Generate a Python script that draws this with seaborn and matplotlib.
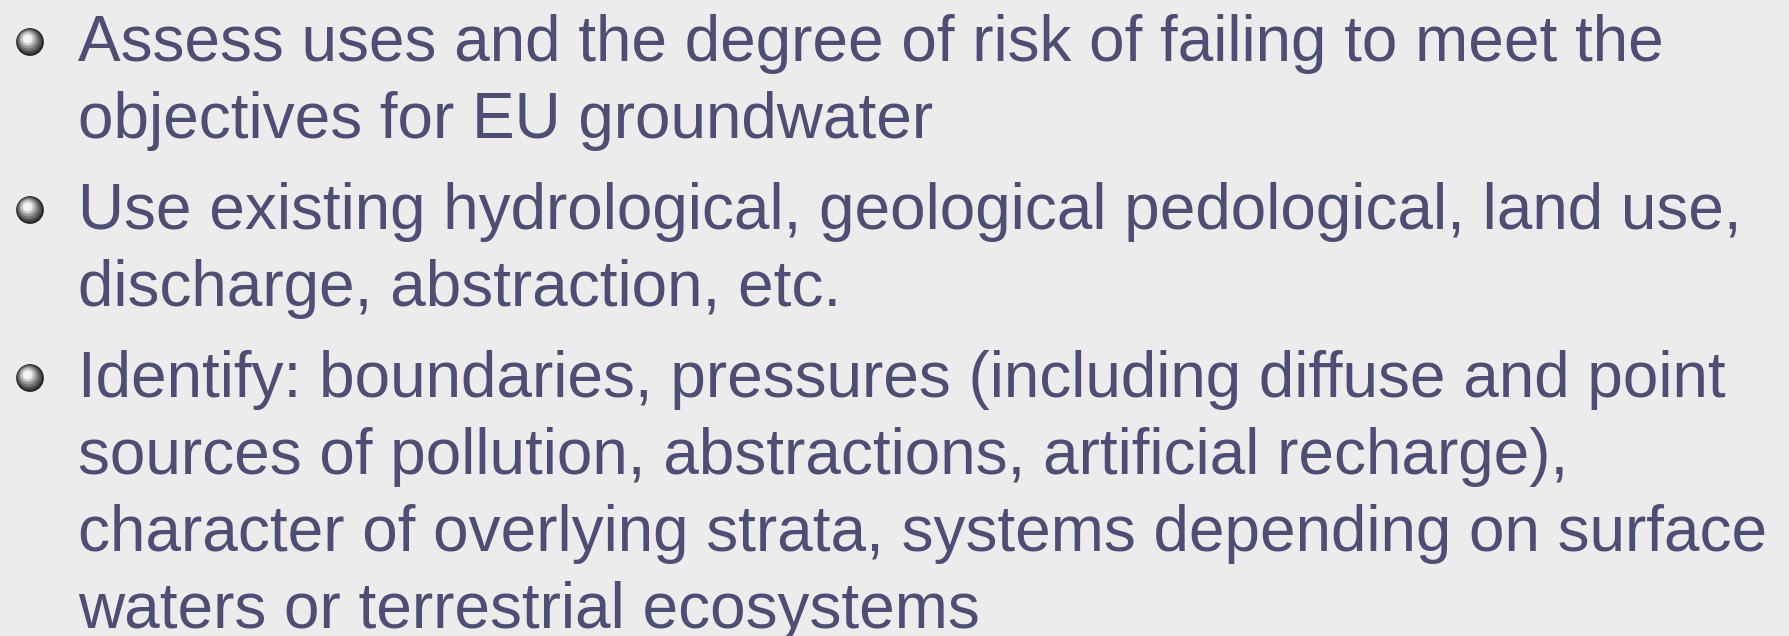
import numpy as np
import pandas as pd
import matplotlib.pyplot as plt
import seaborn as sns

# Slide text: one list of wrapped lines per bullet
bullet_1_lines = [
    "Assess uses and the degree of risk of failing to meet the",
    "objectives for EU groundwater",
]
bullet_2_lines = [
    "Use existing hydrological, geological pedological, land use,",
    "discharge, abstraction, etc.",
]
bullet_3_lines = [
    "Identify: boundaries, pressures (including diffuse and point",
    "sources of pollution, abstractions, artificial recharge),",
    "character of overlying strata, systems depending on surface",
    "waters or terrestrial ecosystems",
]
bullets = [bullet_1_lines, bullet_2_lines, bullet_3_lines]

# Layout (pixel units, figure is 1789x636)
W, H = 1789, 636
FIRST_BASELINE = 61
LINE_STEP = 77
BULLET_GAP = 14
TEXT_X = 78
BULLET_X = 30
BULLET_RISE = 19
TEXT_COLOR = "#4d4e74"
BG_COLOR = "#ececec"


def layout(bullets):
    """Work out baselines for each text line and bullet rows."""
    rows, marks = [], []
    y = FIRST_BASELINE
    for i, lines in enumerate(bullets):
        marks.append({"bullet": i, "x": BULLET_X, "y": y - BULLET_RISE})
        for line in lines:
            rows.append({"bullet": i, "text": line, "y": y})
            y += LINE_STEP
        y += BULLET_GAP
    return pd.DataFrame(rows), pd.DataFrame(marks)


def draw_sphere(ax, marks):
    """Shaded grey ball bullets built from stacked markers."""
    size = 400
    layers = [
        (1.00, 0.0, 0.0, "#262626"),
        (0.80, -0.6, -0.8, "#4a4a4a"),
        (0.60, -1.2, -1.6, "#6f6f6f"),
        (0.42, -1.8, -2.4, "#979797"),
        (0.26, -2.2, -3.0, "#c4c4c4"),
        (0.12, -2.4, -3.2, "#f2f2f2"),
    ]
    for scale, dx, dy, col in layers:
        sns.scatterplot(x=marks["x"] + dx, y=marks["y"] + dy, s=size * scale,
                        color=col, edgecolor="none", linewidth=0, ax=ax,
                        legend=False, zorder=3)


def main():
    sns.set_theme(style="white")
    plt.rcParams["font.family"] = ["Liberation Sans", "DejaVu Sans"]

    lines_df, marks_df = layout(bullets)

    fig = plt.figure(figsize=(W / 100, H / 100), dpi=100)
    fig.patch.set_facecolor(BG_COLOR)
    ax = fig.add_axes([0, 0, 1, 1])
    ax.set_facecolor(BG_COLOR)
    ax.set_xlim(0, W)
    ax.set_ylim(H, 0)
    ax.axis("off")

    draw_sphere(ax, marks_df)

    for _, row in lines_df.iterrows():
        ax.text(TEXT_X, row["y"], row["text"], fontsize=46, color=TEXT_COLOR,
                ha="left", va="baseline")

    fig.savefig("out.png", dpi=100, facecolor=BG_COLOR)


if __name__ == "__main__":
    main()
